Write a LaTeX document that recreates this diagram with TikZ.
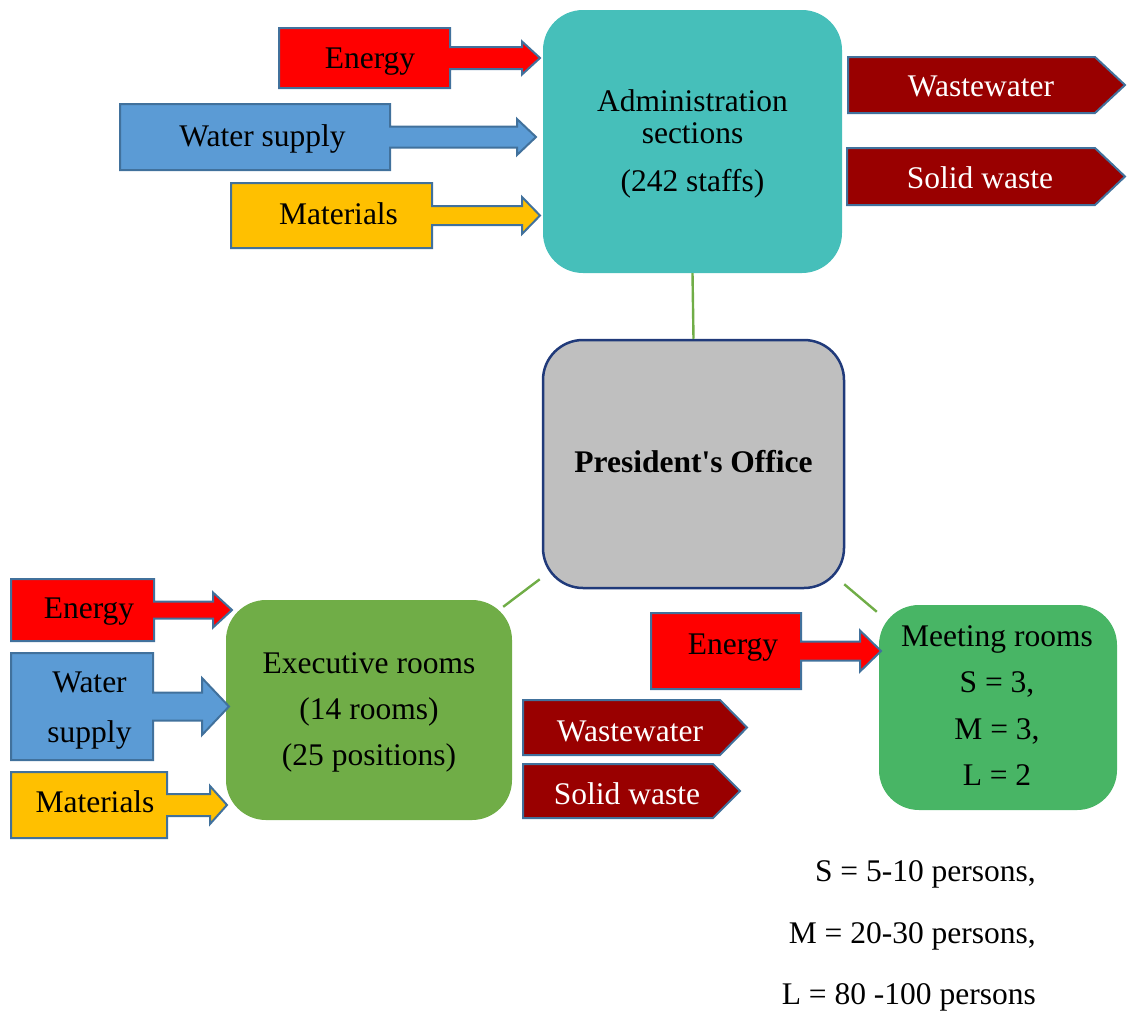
\documentclass[tikz,border=0pt]{standalone}
\usepackage{fontspec}
\setmainfont{Liberation Serif}

\definecolor{energy}{HTML}{FF0000}
\definecolor{water}{HTML}{5B9BD5}
\definecolor{materials}{HTML}{FFC000}
\definecolor{outline}{HTML}{41719C}
\definecolor{waste}{HTML}{990000}
\definecolor{admin}{HTML}{46BFBA}
\definecolor{exec}{HTML}{70AD47}
\definecolor{meeting}{HTML}{48B565}
\definecolor{presfill}{HTML}{BFBFBF}
\definecolor{presline}{HTML}{203A7A}
\definecolor{link}{HTML}{70AD47}

% input block arrow: colour, left, top, right, bottom, shaft half-width,
% head base x, head half-height, tip x
\newcommand\feedshape[9]{%
  \draw[feed, fill=#1] (#2,#3) -- (#4,#3) -- (#4,{(#3+#5)/2-#6})
    -- (#7,{(#3+#5)/2-#6}) -- (#7,{(#3+#5)/2-#8}) -- (#9,{(#3+#5)/2})
    -- (#7,{(#3+#5)/2+#8}) -- (#7,{(#3+#5)/2+#6}) -- (#4,{(#3+#5)/2+#6})
    -- (#4,#5) -- (#2,#5) -- cycle;}
% output pentagon: left, top, point start x, tip x, bottom
\newcommand\wasteshape[5]{%
  \draw[feed, fill=waste] (#1,#2) -- (#3,#2) -- (#4,{(#2+#5)/2})
    -- (#3,#5) -- (#1,#5) -- cycle;}

\begin{document}
\begin{tikzpicture}[x=1pt,y=-1pt,
  font=\fontsize{31.5}{38}\selectfont,
  txt/.style={inner sep=0pt, align=center},
  line1/.style={txt, text height=21pt, text depth=0pt},
  wtxt/.style={line1, text=white},
  feed/.style={draw=outline, line width=2pt, line join=miter},
  box/.style={rounded corners=40pt, inner sep=0pt, align=center},
  link/.style={draw=link, line width=2.4pt}]

\useasboundingbox (0,0) rectangle (1127,1010);

% central unit
\node[box, fill=presfill, draw=presline, line width=2.5pt,
      minimum width=301pt, minimum height=248pt] (pres) at (693.5,464) {};
\node[line1, font=\fontsize{31.5}{38}\selectfont\bfseries] (prestxt) at (pres.center)
  [yshift=2pt] {President\textquotesingle s Office};

% administration
\node[box, fill=admin, minimum width=299pt, minimum height=263pt] (admin) at (692.5,141.5) {};
\node[txt, font=\fontsize{31.5}{32}\selectfont] (admintxt) at (692.5,143.5)
  {Administration\\sections\\[16pt](242 staffs)};

% executive rooms
\node[box, fill=exec, minimum width=286pt, minimum height=220pt] (exec) at (369,710) {};
\node[txt, font=\fontsize{31.5}{46}\selectfont] (exectxt) at (369,712.5)
  {Executive rooms\\(14 rooms)\\(25 positions)};

% meeting rooms
\node[box, fill=meeting, minimum width=238pt, minimum height=205pt] (meet) at (998,707.5) {};
\node[txt, font=\fontsize{31.5}{46.3}\selectfont] (meettxt) at (997,705.5)
  {Meeting rooms\\S = 3,\\M = 3,\\L = 2};

% links to the central unit
\draw[link] (admin.south) -- (pres.north);
\draw[link] ([shift={(-2,-10)}]pres.south west) -- ([shift={(-9,7)}]exec.north east);
\draw[link] ([shift={(-1,-5)}]pres.south east) -- ([shift={(-2,7)}]meet.north west);

% inputs to administration
\feedshape{energy}{279}{28}{450}{88}{11}{522}{16.5}{540}
\feedshape{water}{120}{104}{390}{170}{10.5}{517}{18}{536}
\feedshape{materials}{231}{183}{432}{248}{9.5}{522}{18.5}{540}
\node[line1] (aen) at (370,57.5) {Energy};
\node[line1] (awa) at (262.5,136) {Water supply};
\node[line1] (ama) at (338.5,214) {Materials};

% outputs of administration
\wasteshape{848}{57}{1095}{1125}{113}
\wasteshape{847}{148}{1095}{1125}{205}
\node[wtxt] (aww) at (981,85.5) {Wastewater};
\node[wtxt] (asw) at (980,177.5) {Solid waste};

% inputs to executive rooms
\feedshape{energy}{11}{579}{154}{641}{8.5}{213}{17.5}{232}
\feedshape{water}{11}{653}{153}{760}{14}{202}{28.5}{229}
\feedshape{materials}{11}{772}{167}{838}{11}{210}{19}{227}
\node[line1] (een) at (89,608) {Energy};
\node[txt, font=\fontsize{31.5}{50}\selectfont] (ewa) at (89.5,711) {Water\\supply};
\node[line1] (ema) at (95,802) {Materials};

% outputs of executive rooms
\wasteshape{523}{700}{720}{747}{755}
\wasteshape{523}{764}{713}{740}{818}
\node[wtxt] (eww) at (630,731) {Wastewater};
\node[wtxt] (esw) at (627,794) {Solid waste};

% input to meeting rooms
\feedshape{energy}{651}{613}{801}{689}{9.5}{860}{20.5}{881}
\node[line1] (men) at (733,644) {Energy};

% size classes of meeting rooms
\node[txt, align=right, anchor=east, font=\fontsize{31.5}{61.5}\selectfont] (sizes) at (1036,936)
  {S = 5-10 persons,\\M = 20-30 persons,\\L = 80 -100 persons};

\end{tikzpicture}
\end{document}
